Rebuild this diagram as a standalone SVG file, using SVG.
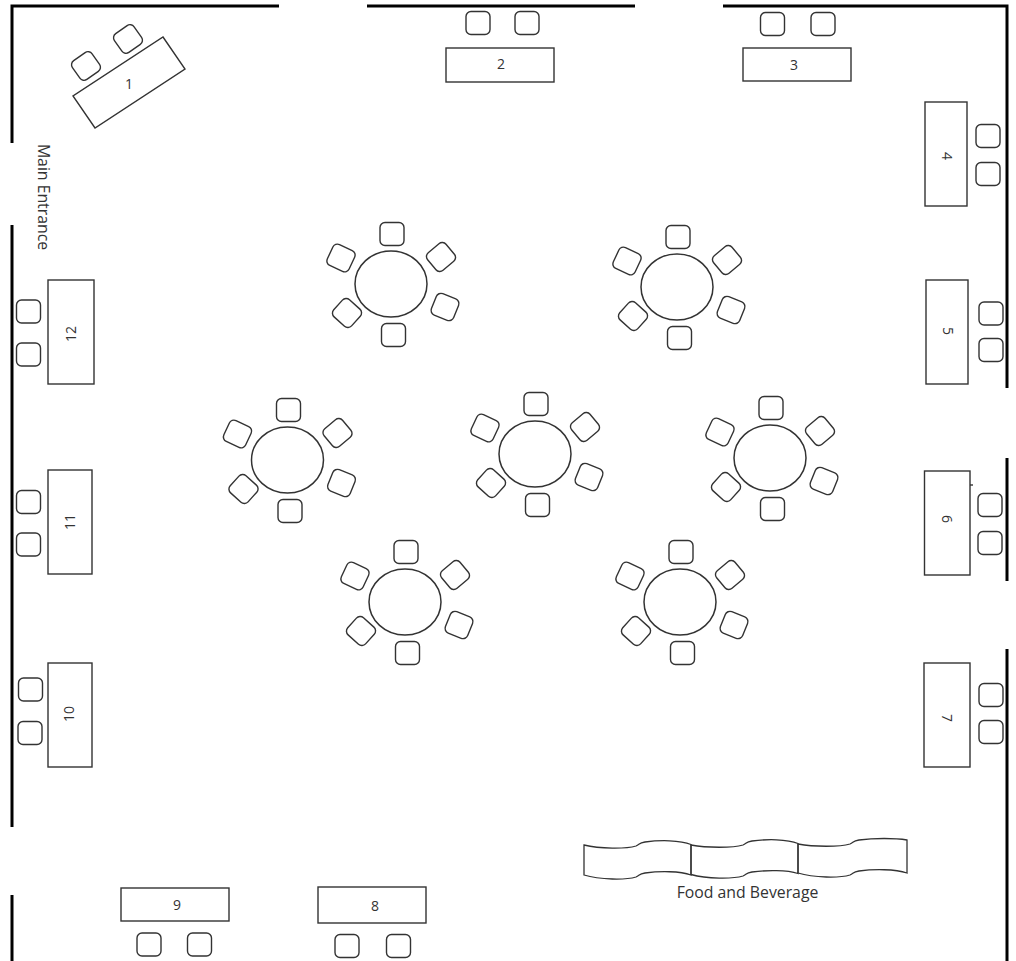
<svg xmlns="http://www.w3.org/2000/svg" width="1016" height="961" viewBox="0 0 1016 961">
<style>
text{font-family:"Open Sans","Lato","Liberation Sans",sans-serif;font-size:14px;fill:#333;text-anchor:middle;dominant-baseline:central}
.lg{font-size:15.800px}
.wall{fill:none;stroke:#000;stroke-width:3}
.s{fill:#fff;stroke:#333;stroke-width:1.4}
.c{fill:#fff;stroke:#333;stroke-width:1.5}
.f{fill:none;stroke:#333;stroke-width:1.3}
</style>
<defs>
<rect id="chair" class="s" x="-12" y="-11.500" width="24" height="23" rx="5"/>
<g id="round">
<ellipse class="c" cx="0" cy="0" rx="36" ry="33"/>
<use href="#chair" transform="translate(1,-50)"/>
<use href="#chair" transform="translate(2.500,51)"/>
<use href="#chair" transform="translate(-50,-26) rotate(25)"/>
<use href="#chair" transform="translate(50,-27) rotate(-40)"/>
<use href="#chair" transform="translate(-44,29) rotate(42)"/>
<use href="#chair" transform="translate(54,23) rotate(22)"/>
</g>
</defs>
<g id="walls">
<path class="wall" d="M12,143V6H279M367,6H635M723,6H1007V388M12,225V827M12,895V961M1007,458V581M1007,649V961"/>
</g>
<g id="booth-1"><polygon class="s" points="163,37 185,69 95,128 73,96"/><use href="#chair" transform="translate(86,66) rotate(-35)"/><use href="#chair" transform="translate(128,39) rotate(-35)"/><text x="129" y="83">1</text></g>
<g id="booth-2"><rect class="s" x="446" y="48" width="108" height="34"/><use href="#chair" transform="translate(478,23)"/><use href="#chair" transform="translate(527,23)"/><text x="501" y="63">2</text></g>
<g id="booth-3"><rect class="s" x="743" y="48" width="108" height="33"/><use href="#chair" transform="translate(772.500,24)"/><use href="#chair" transform="translate(823,24)"/><text x="794" y="64">3</text></g>
<g id="booth-4"><rect class="s" x="925" y="102" width="42" height="104"/><use href="#chair" transform="translate(988,136)"/><use href="#chair" transform="translate(988,174)"/><text transform="translate(947,156) rotate(90)">4</text></g>
<g id="booth-5"><rect class="s" x="926" y="280" width="42" height="104"/><use href="#chair" transform="translate(991,313.500)"/><use href="#chair" transform="translate(991,350)"/><text transform="translate(948,331) rotate(90)">5</text></g>
<g id="booth-6"><rect class="s" x="924.500" y="471" width="45.500" height="104"/><path class="s" d="M970,485H973"/><use href="#chair" transform="translate(990,505)"/><use href="#chair" transform="translate(990,543)"/><text transform="translate(947,519) rotate(90)">6</text></g>
<g id="booth-7"><rect class="s" x="924" y="663" width="46" height="104"/><use href="#chair" transform="translate(991,695)"/><use href="#chair" transform="translate(991,732)"/><text transform="translate(947,718) rotate(90)">7</text></g>
<g id="booth-8"><rect class="s" x="318" y="887" width="108" height="36"/><use href="#chair" transform="translate(347,946)"/><use href="#chair" transform="translate(398.500,946)"/><text x="375" y="905">8</text></g>
<g id="booth-9"><rect class="s" x="121" y="888" width="108" height="33"/><use href="#chair" transform="translate(149,944.500)"/><use href="#chair" transform="translate(199.500,944.500)"/><text x="177" y="904">9</text></g>
<g id="booth-10"><rect class="s" x="48" y="663" width="44" height="104"/><use href="#chair" transform="translate(30.500,689.500)"/><use href="#chair" transform="translate(30,733)"/><text transform="translate(68,714) rotate(-90)">10</text></g>
<g id="booth-11"><rect class="s" x="48" y="470" width="44" height="104"/><use href="#chair" transform="translate(28.500,502)"/><use href="#chair" transform="translate(28.500,544.500)"/><text transform="translate(69,522) rotate(-90)">11</text></g>
<g id="booth-12"><rect class="s" x="48" y="280" width="46" height="104"/><use href="#chair" transform="translate(28.500,311.500)"/><use href="#chair" transform="translate(28.500,354.500)"/><text transform="translate(70,334) rotate(-90)">12</text></g>
<g id="table-1"><use href="#round" transform="translate(391,284)"/></g>
<g id="table-2"><use href="#round" transform="translate(677,287)"/></g>
<g id="table-3"><use href="#round" transform="translate(287.500,460)"/></g>
<g id="table-4"><use href="#round" transform="translate(535,454)"/></g>
<g id="table-5"><use href="#round" transform="translate(770,458)"/></g>
<g id="table-6"><use href="#round" transform="translate(405,602)"/></g>
<g id="table-7"><use href="#round" transform="translate(680,602)"/></g>
<g id="food-and-beverage">
<path class="f" d="M584,845C600,849 626,849 636,846C640,844 639,843 645,842C660,840 680,840 691,844.500V875C680,871 660,871 645,873C639,874 640,875 636,877C626,880 600,880 584,875Z"/>
<path class="f" d="M691,845C707,848 733,848 743,845C747,843 746,842 752,841C767,839 787,839 798,843.500V873.500C787,870 767,870 752,872C746,873 747,874 743,876C733,879 707,879 691,874.500Z"/>
<path class="f" d="M798,844C814,847 840,847 850,844C854,842 853,841 859,840C874,838 895,838 907,840V873C895,869 874,869 859,871C853,872 854,873 850,875C840,878 814,878 798,873Z"/>
<text class="lg" x="747.500" y="892">Food and Beverage</text>
</g>
<g id="main-entrance"><text class="lg" transform="translate(44,197) rotate(90)">Main Entrance</text></g>
</svg>
